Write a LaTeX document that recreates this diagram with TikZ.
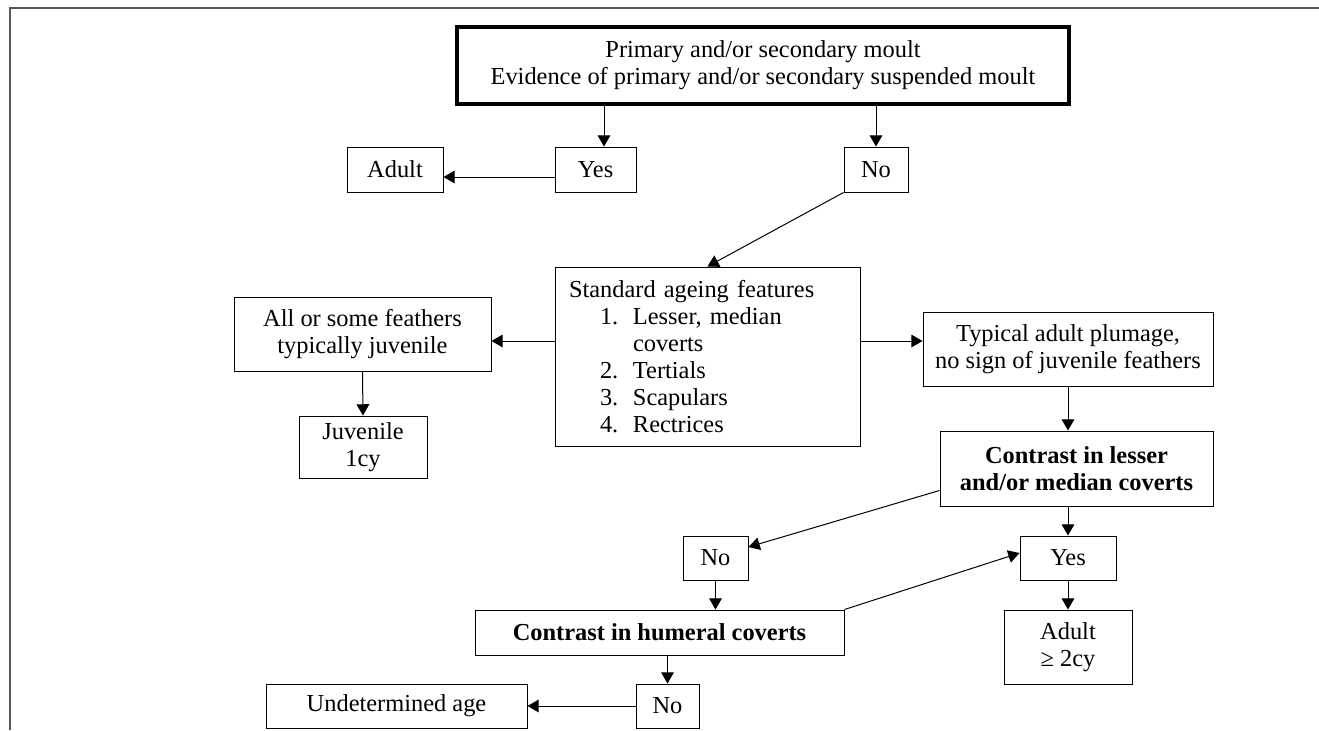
\documentclass[tikz,border=0pt]{standalone}
\usepackage{fontspec}
\setmainfont{Liberation Serif}
\usetikzlibrary{positioning}
\usetikzlibrary{arrows}
\tikzstyle{box} = [draw, rectangle, line width=0.5pt, inner sep=0pt, align=center, font=\fontsize{12.2}{13.5}\selectfont]
\tikzstyle{keybox} = [box, font=\fontsize{12.2}{13.5}\selectfont\bfseries]
\tikzstyle{link} = [>=triangle 60, ->, line width=0.5pt, draw]

\begin{document}
\begin{tikzpicture}[
		x=0.5pt,
		y=-0.5pt
	]
	\useasboundingbox (0,0) rectangle (1319,730);
	\draw[black!65, line width=0.75pt] (10,730) -- (10,8) -- (1319,8);

	% first question
	\node [box, line width=2pt, minimum width=306pt, minimum height=38.5pt] (moult) at (763,65.5) {Primary and/or secondary moult\\Evidence of primary and/or secondary suspended moult};
	\node [box, minimum width=40.5pt, minimum height=22.5pt] (yes1) at (595.5,169.5) {Yes};
	\node [box, minimum width=48pt, minimum height=22.5pt] (adult1) at (395,169.5) {Adult};
	\node [box, minimum width=32pt, minimum height=22.5pt] (no1) at (876,169.5) {No};

	% standard features
	\node [box, align=left, text width=138.5pt, minimum width=152.5pt, minimum height=89.5pt] (std) at (707.5,356.5) {Standard ageing features\\
		\hspace*{15.5pt}\makebox[16.5pt][l]{1.}Lesser, median\\
		\hspace*{32pt}coverts\\
		\hspace*{15.5pt}\makebox[16.5pt][l]{2.}Tertials\\
		\hspace*{15.5pt}\makebox[16.5pt][l]{3.}Scapulars\\
		\hspace*{15.5pt}\makebox[16.5pt][l]{4.}Rectrices};
	\node [box, minimum width=128.5pt, minimum height=37pt] (juvfeat) at (362.5,334) {All or some feathers\\typically juvenile};
	\node [box, minimum width=64pt, minimum height=31pt] (juv) at (363,447) {Juvenile\\1cy};
	\node [box, minimum width=145pt, minimum height=37pt] (typ) at (1068,349) {Typical adult plumage,\\no sign of juvenile feathers};

	% coverts
	\node [keybox, minimum width=136.5pt, minimum height=37.5pt] (lesser) at (1076.5,468.5) {Contrast in lesser\\and/or median coverts};
	\node [box, minimum width=32.5pt, minimum height=22pt] (no2) at (715.5,558) {No};
	\node [box, minimum width=48pt, minimum height=22pt] (yes2) at (1068,558) {Yes};
	\node [keybox, minimum width=184.5pt, minimum height=22.5pt] (humeral) at (659.5,632.5) {Contrast in humeral coverts};
	\node [box, minimum width=64pt, minimum height=37pt] (adult2) at (1068,647) {Adult\\≥ 2cy};
	\node [box, minimum width=31.5pt, minimum height=22pt] (no3) at (667.5,706) {No};
	\node [box, minimum width=130.5pt, minimum height=22pt] (undet) at (396.5,706) {Undetermined age};

	\draw[link] ([xshift=4.25pt]yes1.north |- moult.south) -- ([xshift=4.25pt]yes1.north);
	\draw[link] (no1.north |- moult.south) -- (no1.north);
	\draw[link] ([yshift=-3.75pt]yes1.west) -- ([yshift=-3.75pt]yes1.west -| adult1.east);
	\draw[link] (no1.south west) -- (std.north);
	\draw[link] ([yshift=7.75pt]std.west) -- ([yshift=7.75pt]std.west -| juvfeat.east);
	\draw[link] ([yshift=7.75pt]std.east) -- ([yshift=7.75pt]std.east -| typ.west);
	\draw[link] (juvfeat.south) -- (juv.north);
	\draw[link] (typ.south) -- (typ.south |- lesser.north);
	\draw[link] (yes2.north |- lesser.south) -- (yes2.north);
	\draw[link] ([yshift=-11pt]lesser.west) -- ([yshift=5.5pt]no2.east);
	\draw[link] (no2.south) -- (no2.south |- humeral.north);
	\draw[link] (humeral.north east) -- ([yshift=2.5pt]yes2.west);
	\draw[link] (yes2.south) -- (adult2.north);
	\draw[link] (no3.north |- humeral.south) -- (no3.north);
	\draw[link] (no3.west) -- (undet.east);
\end{tikzpicture}
\end{document}
